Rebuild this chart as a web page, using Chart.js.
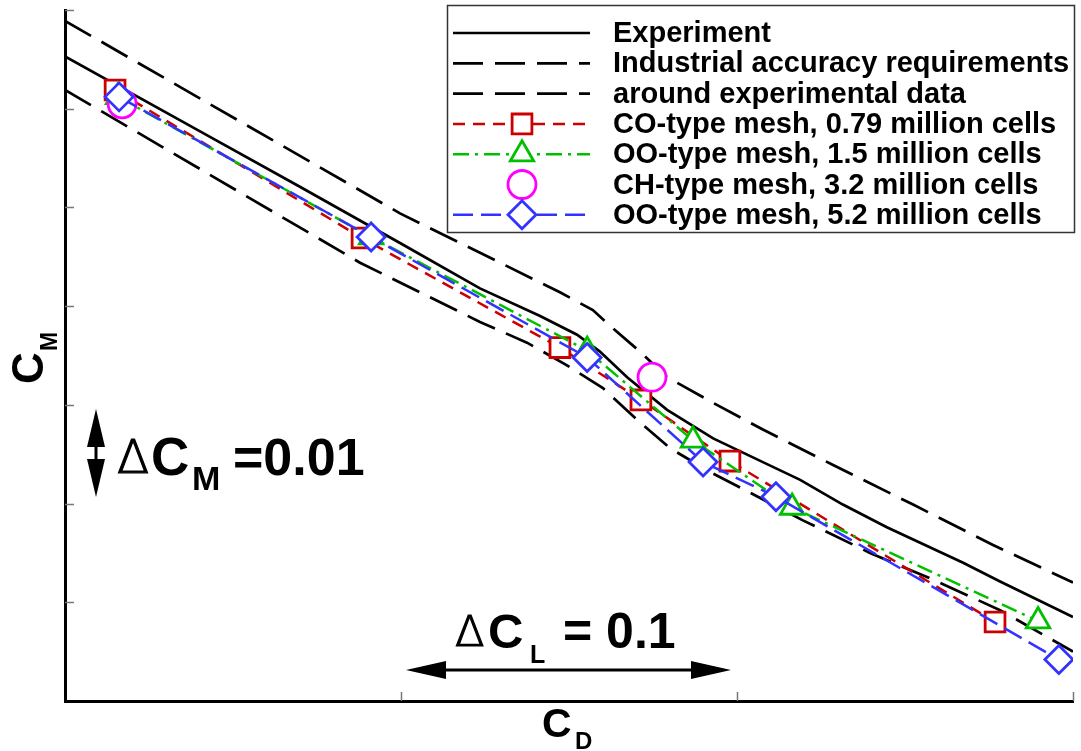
<!DOCTYPE html>
<html>
<head>
<meta charset="utf-8">
<script src="https://cdn.jsdelivr.net/npm/chart.js@4.4.0/dist/chart.umd.min.js"></script>
<style>
  html, body { margin: 0; padding: 0; background: #fff; }
  #wrap { width: 1081px; height: 751px; }
</style>
</head>
<body>
<div id="wrap"><canvas id="chart" width="1081" height="751"></canvas></div>
<script>
// ---- data (x in C_D, y in C_M, arbitrary origin) ----
const expX = [0, 0.0402, 0.0699, 0.0997, 0.1235, 0.1414, 0.1524, 0.1592, 0.1673, 0.1792, 0.1929, 0.2077, 0.2188, 0.2315, 0.2446, 0.2673, 0.2783, 0.3];
const expY = [0.0653, 0.0577, 0.0521, 0.0464, 0.0418, 0.0390, 0.0371, 0.0354, 0.0328, 0.0295, 0.0266, 0.0242, 0.0224, 0.0199, 0.0176, 0.0140, 0.0121, 0.0085];

const upX = [0, 0.0997, 0.1289, 0.1473, 0.1571, 0.1622, 0.1711, 0.1792, 0.1929, 0.2077, 0.2286, 0.2524, 0.2762, 0.3];
const upY = [0.0689, 0.0494, 0.0445, 0.0414, 0.0396, 0.0380, 0.0354, 0.0328, 0.0302, 0.0275, 0.0239, 0.0199, 0.0158, 0.0120];

const loX = [0, 0.0878, 0.1235, 0.1375, 0.1494, 0.1601, 0.1702, 0.1801, 0.1920, 0.2039, 0.2196, 0.2396, 0.2583, 0.2783, 0.3];
const loY = [0.0619, 0.0444, 0.0384, 0.0363, 0.0340, 0.0317, 0.0285, 0.0256, 0.0232, 0.0211, 0.0183, 0.0150, 0.0123, 0.0092, 0.0050];

const coX = [0.0149, 0.0884, 0.1473, 0.1714, 0.1979, 0.2768];
const coY = [0.0619, 0.0469, 0.0358, 0.0305, 0.0243, 0.0080];

const oo15X = [0.0158, 0.0911, 0.1554, 0.1869, 0.2164, 0.2896];
const oo15Y = [0.0612, 0.0470, 0.0355, 0.0264, 0.0196, 0.0081];

const chX = [0.0170, 0.1747];
const chY = [0.0605, 0.0328];

const oo52X = [0.0161, 0.0911, 0.1554, 0.1899, 0.2116, 0.2958];
const oo52Y = [0.0612, 0.0470, 0.0348, 0.0242, 0.0207, 0.0042];

const xTicks = [0.1, 0.2, 0.3];
const yTicks = [0.01, 0.02, 0.03, 0.04, 0.05, 0.06, 0.07];

const labels = [
  "Experiment",
  "Industrial accuracy requirements",
  "around experimental data",
  "CO-type mesh, 0.79 million cells",
  "OO-type mesh, 1.5 million cells",
  "CH-type mesh, 3.2 million cells",
  "OO-type mesh, 5.2 million cells"
];

const pts = (xs, ys) => xs.map((x, i) => ({ x: x, y: ys[i] }));
const FONT = '"Liberation Sans", Arial, Helvetica, sans-serif';

// line + no marker
function curve(label, xs, ys, color, dash, order) {
  return {
    label, data: pts(xs, ys), borderColor: color, borderWidth: 2.7, borderDash: dash,
    showLine: true, pointRadius: 0, tension: 0, order
  };
}
// line + open marker
function series(label, xs, ys, color, dash, style, r, showLine, order) {
  return {
    label, data: pts(xs, ys), borderColor: color, borderWidth: 2.5, borderDash: dash,
    showLine, tension: 0, order,
    pointStyle: style, pointRadius: r, pointBorderWidth: 2.8,
    pointBorderColor: color, pointBackgroundColor: "#fff"
  };
}

const datasets = [
  curve(labels[0], expX, expY, "#000", [], 5),
  curve(labels[1], upX, upY, "#000", [30, 12], 6),
  curve(labels[2], loX, loY, "#000", [30, 12], 6),
  series(labels[3], coX, coY, "#cc0000", [12, 8], "rect", 14, true, 3),
  series(labels[4], oo15X, oo15Y, "#00c000", [16, 6, 3, 6], "triangle", 13.5, true, 2),
  series(labels[5], chX, chY, "#ff00ff", [], "circle", 14, false, 1),
  series(labels[6], oo52X, oo52Y, "#3333ff", [20, 8], "rectRot", 14, true, 0)
];

// tick marks pointing into the plot
const innerTicks = {
  id: "innerTicks",
  beforeDatasetsDraw(chart) {
    const ctx = chart.ctx, a = chart.chartArea;
    const sx = chart.scales.x, sy = chart.scales.y;
    ctx.save();
    ctx.strokeStyle = "#777";
    ctx.lineWidth = 1.5;
    yTicks.forEach(v => {
      const y = Math.round(sy.getPixelForValue(v)) + 0.5;
      ctx.beginPath(); ctx.moveTo(a.left, y); ctx.lineTo(a.left + 9, y); ctx.stroke();
    });
    xTicks.forEach(v => {
      const x = Math.round(sx.getPixelForValue(v)) + 0.5;
      ctx.beginPath(); ctx.moveTo(x, a.bottom); ctx.lineTo(x, a.bottom - 9); ctx.stroke();
    });
    ctx.restore();
  }
};

// boxed legend at the top right
const boxLegend = {
  id: "boxLegend",
  afterDraw(chart) {
    const ctx = chart.ctx;
    ctx.save();
    ctx.fillStyle = "#fff";
    ctx.fillRect(447, 5, 628, 228);
    ctx.strokeStyle = "#333";
    ctx.lineWidth = 1.5;
    ctx.strokeRect(447.5, 5.5, 627, 227);

    const x1 = 453, x2 = 590, xm = 522, xt = 613;
    chart.data.datasets.forEach((ds, i) => {
      const y = 33 + i * 30.3;
      if (ds.showLine) {
        ctx.save();
        ctx.strokeStyle = ds.borderColor;
        ctx.lineWidth = ds.borderWidth;
        ctx.setLineDash(ds.borderDash || []);
        ctx.beginPath(); ctx.moveTo(x1, y); ctx.lineTo(x2, y); ctx.stroke();
        ctx.restore();
      }
      if (ds.pointRadius) {
        ctx.save();
        ctx.strokeStyle = ds.pointBorderColor;
        ctx.fillStyle = ds.pointBackgroundColor;
        ctx.lineWidth = ds.pointBorderWidth;
        Chart.helpers.drawPoint(ctx, { pointStyle: ds.pointStyle, radius: ds.pointRadius, borderWidth: ds.pointBorderWidth, rotation: 0 }, xm, y);
        ctx.restore();
      }
      ctx.fillStyle = "#000";
      ctx.font = "bold 29px " + FONT;
      ctx.textBaseline = "middle";
      ctx.textAlign = "left";
      ctx.fillText(ds.label, xt, y + 1);
    });
    ctx.restore();
  }
};

function head(ctx, tx, ty, dx, dy, len, half) {
  const bx = tx - dx * len, by = ty - dy * len;
  ctx.beginPath();
  ctx.moveTo(tx, ty);
  ctx.lineTo(bx - dy * half, by + dx * half);
  ctx.lineTo(bx + dy * half, by - dx * half);
  ctx.closePath();
  ctx.fill();
}

const DELTA_FONT = '"DejaVu Sans", "Liberation Sans", sans-serif';

// thin delta, a touch thickened with a stroke
function delta(ctx, size, x, y) {
  ctx.save();
  ctx.font = "200 " + size + "px " + DELTA_FONT;
  ctx.lineWidth = 1.2;
  ctx.fillText("\u0394", x, y);
  ctx.strokeText("\u0394", x, y);
  ctx.restore();
}

// scale arrows and axis names
const notes = {
  id: "notes",
  afterDraw(chart) {
    const ctx = chart.ctx;
    ctx.save();
    ctx.fillStyle = "#000";
    ctx.strokeStyle = "#000";
    ctx.textBaseline = "alphabetic";
    ctx.textAlign = "left";

    // vertical double arrow
    ctx.lineWidth = 3;
    ctx.beginPath(); ctx.moveTo(96, 420); ctx.lineTo(96, 486); ctx.stroke();
    head(ctx, 96, 409, 0, -1, 38, 9);
    head(ctx, 96, 497, 0, 1, 38, 9);

    delta(ctx, 47, 117, 473);
    ctx.font = "bold 53px " + FONT;
    ctx.fillText("C", 151, 475);
    ctx.font = "bold 34px " + FONT;
    ctx.fillText("M", 192, 490);
    ctx.font = "bold 52px " + FONT;
    ctx.fillText("=0.01", 233, 475);

    // horizontal double arrow
    ctx.lineWidth = 3;
    ctx.beginPath(); ctx.moveTo(420, 670); ctx.lineTo(718, 670); ctx.stroke();
    head(ctx, 406, 670, -1, 0, 40, 9);
    head(ctx, 731, 670, 1, 0, 40, 9);

    delta(ctx, 43, 455, 646);
    ctx.font = "bold 49px " + FONT;
    ctx.fillText("C", 488, 648);
    ctx.font = "bold 25px " + FONT;
    ctx.fillText("L", 530, 663);
    ctx.font = "bold 50px " + FONT;
    ctx.fillText("= 0.1", 563, 648);

    // x axis name
    ctx.font = "bold 41px " + FONT;
    ctx.fillText("C", 542, 737);
    ctx.font = "bold 24px " + FONT;
    ctx.fillText("D", 575, 749);

    // y axis name (rotated)
    ctx.translate(43, 384);
    ctx.rotate(-Math.PI / 2);
    ctx.font = "bold 44px " + FONT;
    ctx.fillText("C", 0, 0);
    ctx.font = "bold 23px " + FONT;
    ctx.fillText("M", 33, 14);
    ctx.restore();
  }
};

new Chart(document.getElementById("chart"), {
  type: "scatter",
  data: { datasets },
  options: {
    responsive: false,
    animation: false,
    devicePixelRatio: 1,
    layout: { autoPadding: false, padding: { left: 65, right: 8, top: 10, bottom: 50 } },
    plugins: { legend: { display: false }, tooltip: { enabled: false } },
    scales: {
      x: {
        type: "linear", min: 0, max: 0.3,
        ticks: { display: false, stepSize: 0.1 },
        grid: { display: false, drawTicks: false },
        border: { display: true, color: "#000", width: 3 }
      },
      y: {
        type: "linear", min: 0, max: 0.07,
        ticks: { display: false, stepSize: 0.01 },
        grid: { display: false, drawTicks: false },
        border: { display: true, color: "#000", width: 3 }
      }
    }
  },
  plugins: [innerTicks, boxLegend, notes]
});
</script>
</body>
</html>
